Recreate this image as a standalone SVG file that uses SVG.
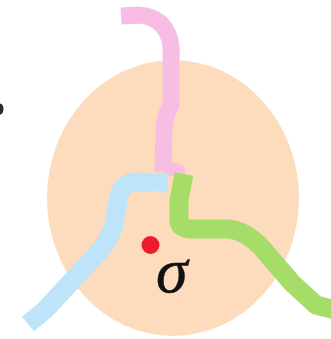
<svg xmlns="http://www.w3.org/2000/svg" width="331" height="339" viewBox="0 0 331 339">
<style>
.band{fill:none;stroke-linecap:butt;stroke-linejoin:round}
.pink{stroke:#F8BDE2}
.blue{stroke:#BDE4F8}
.green{stroke:#A6DD68}
.lbl{font-family:"Liberation Serif","DejaVu Serif",serif;font-style:italic;fill:#111}
</style>
<rect width="331" height="339" fill="#ffffff"/>
<g id="region">
<ellipse cx="173" cy="198" rx="126" ry="138" fill="#FDDCBD"/>
</g>
<ellipse id="mark" cx="0" cy="109" rx="3.5" ry="5.5" fill="#2a2a2a"/>
<g id="connectors">
<g id="pink-path">
<path class="band pink" stroke-width="17" d="M121,16 L138,15 Q163,16 170,40 Q172,50 171,60 L171,105 Q165,115 164,128 L163,172"/>
<polygon points="163,163 177,163 185,167 185,176 163,176" fill="#F8BDE2"/>
</g>
<g id="blue-path">
<path class="band blue" stroke-width="19" d="M168,183 L136,182 Q121,182 118,200 L114,225 Q108,243 95,256 L70,283 L45,310 L28,324"/>
<rect x="152" y="191" width="6" height="6" fill="#FDDCBD"/>
</g>
<g id="green-path">
<path class="band green" stroke-width="19" d="M184,174 L179,200 L179,220 Q179,229 191,229 L228,229 Q245,230 262,248 L292,283 L316,305 L335,310"/>
</g>
</g>
<g id="point">
<circle cx="150.5" cy="245" r="9" fill="#EC1C2E"/>
</g>
<g id="label">
<text class="lbl" x="156" y="292" font-size="64" stroke="#111" stroke-width="0.5">σ</text>
</g>
</svg>
